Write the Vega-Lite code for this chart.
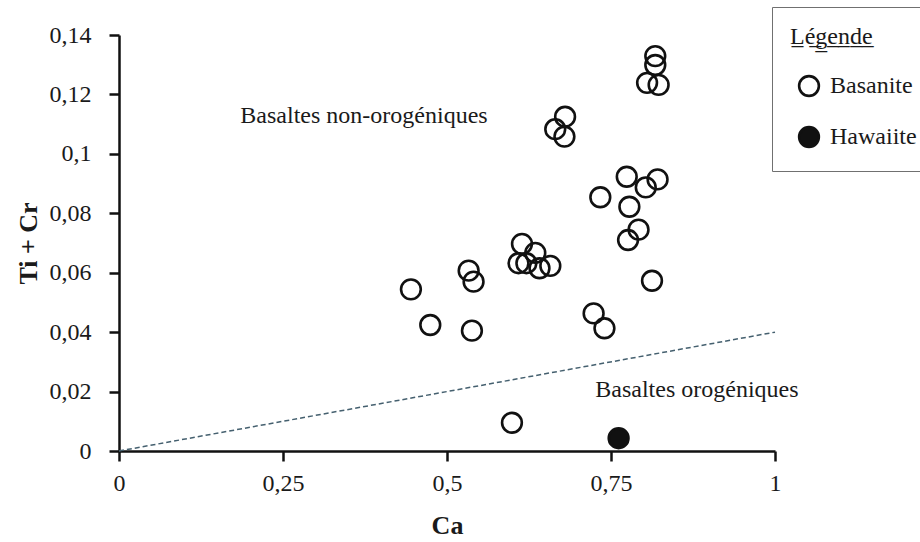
{
  "$schema": "https://vega.github.io/schema/vega-lite/v6.json",
  "width": 656,
  "height": 416,
  "autosize": {"type": "none"},
  "padding": {"left": 119, "top": 35, "right": 145, "bottom": 91},
  "background": "white",
  "datasets": {
    "points": [
      {"Ca": 0.8175, "TiCr": 0.1329, "type": "Basanite"},
      {"Ca": 0.8175, "TiCr": 0.1299, "type": "Basanite"},
      {"Ca": 0.805, "TiCr": 0.1239, "type": "Basanite"},
      {"Ca": 0.8226, "TiCr": 0.1232, "type": "Basanite"},
      {"Ca": 0.68, "TiCr": 0.1125, "type": "Basanite"},
      {"Ca": 0.665, "TiCr": 0.1083, "type": "Basanite"},
      {"Ca": 0.679, "TiCr": 0.1058, "type": "Basanite"},
      {"Ca": 0.774, "TiCr": 0.0923, "type": "Basanite"},
      {"Ca": 0.821, "TiCr": 0.0914, "type": "Basanite"},
      {"Ca": 0.803, "TiCr": 0.0887, "type": "Basanite"},
      {"Ca": 0.7337, "TiCr": 0.0854, "type": "Basanite"},
      {"Ca": 0.778, "TiCr": 0.0822, "type": "Basanite"},
      {"Ca": 0.792, "TiCr": 0.0745, "type": "Basanite"},
      {"Ca": 0.776, "TiCr": 0.071, "type": "Basanite"},
      {"Ca": 0.6143, "TiCr": 0.0697, "type": "Basanite"},
      {"Ca": 0.6346, "TiCr": 0.0667, "type": "Basanite"},
      {"Ca": 0.609, "TiCr": 0.0632, "type": "Basanite"},
      {"Ca": 0.621, "TiCr": 0.0632, "type": "Basanite"},
      {"Ca": 0.641, "TiCr": 0.0615, "type": "Basanite"},
      {"Ca": 0.6575, "TiCr": 0.0623, "type": "Basanite"},
      {"Ca": 0.445, "TiCr": 0.0544, "type": "Basanite"},
      {"Ca": 0.533, "TiCr": 0.0607, "type": "Basanite"},
      {"Ca": 0.5405, "TiCr": 0.057, "type": "Basanite"},
      {"Ca": 0.4745, "TiCr": 0.0424, "type": "Basanite"},
      {"Ca": 0.538, "TiCr": 0.0405, "type": "Basanite"},
      {"Ca": 0.8125, "TiCr": 0.0573, "type": "Basanite"},
      {"Ca": 0.7235, "TiCr": 0.0463, "type": "Basanite"},
      {"Ca": 0.74, "TiCr": 0.0413, "type": "Basanite"},
      {"Ca": 0.599, "TiCr": 0.0095, "type": "Basanite"},
      {"Ca": 0.7616, "TiCr": 0.0043, "type": "Hawaiite"}
    ],
    "line": [
      {"Ca": 0, "TiCr": 0},
      {"Ca": 1, "TiCr": 0.04}
    ],
    "labels": [
      {"Ca": 0.185, "TiCr": 0.1104, "text": "Basaltes non-orogéniques"},
      {"Ca": 0.726, "TiCr": 0.0183, "text": "Basaltes orogéniques"}
    ]
  },
  "layer": [
    {
      "data": {"name": "line"},
      "mark": {"type": "line", "strokeDash": [5, 3], "color": "#45606f", "strokeWidth": 1.5},
      "encoding": {
        "x": {
          "field": "Ca", "type": "quantitative",
          "scale": {"domain": [0, 1], "nice": false, "zero": true},
          "axis": {
            "title": "Ca",
            "values": [0, 0.25, 0.5, 0.75, 1],
            "labelPadding": 10,
            "titlePadding": 17,
            "labelFlush": false,
            "labelExpr": "replace(format(datum.value, '~g'), '.', ',')"
          }
        },
        "y": {
          "field": "TiCr", "type": "quantitative",
          "scale": {"domain": [0, 0.14], "nice": false, "zero": true},
          "axis": {
            "title": "Ti + Cr",
            "values": [0, 0.02, 0.04, 0.06, 0.08, 0.1, 0.12, 0.14],
            "labelPadding": 18,
            "titlePadding": 8,
            "labelExpr": "replace(format(datum.value, '~g'), '.', ',')"
          }
        }
      }
    },
    {
      "data": {"name": "labels"},
      "mark": {"type": "text", "align": "left", "baseline": "alphabetic", "font": "Liberation Serif", "fontSize": 24, "color": "#1a1a1a"},
      "encoding": {
        "x": {"field": "Ca", "type": "quantitative"},
        "y": {"field": "TiCr", "type": "quantitative"},
        "text": {"field": "text"}
      }
    },
    {
      "data": {"name": "points"},
      "mark": {"type": "point", "shape": "circle", "filled": true, "stroke": "#111111", "strokeWidth": 2.6, "size": 390, "opacity": 1},
      "encoding": {
        "x": {"field": "Ca", "type": "quantitative"},
        "y": {"field": "TiCr", "type": "quantitative"},
        "fill": {
          "field": "type", "type": "nominal",
          "scale": {"domain": ["Basanite", "Hawaiite"], "range": ["rgba(255,255,255,0)", "#111111"]},
          "legend": {
            "title": "L\u0332\u00e9\u0332g\u0332e\u0332n\u0332d\u0332e\u0332",
            "orient": "none",
            "legendX": 653,
            "legendY": -28,
            "padding": 18,
            "strokeColor": "#707070",
            "fillColor": "white",
            "titleFont": "Liberation Serif",
            "titleFontSize": 24,
            "titleFontWeight": "normal",
            "titleColor": "#1a1a1a",
            "titlePadding": 25,
            "labelFont": "Liberation Serif",
            "labelFontSize": 24,
            "labelColor": "#1a1a1a",
            "rowPadding": 19,
            "symbolOffset": 7,
            "labelOffset": 9,
            "symbolType": "circle",
            "symbolSize": 390,
            "symbolStrokeColor": "#111111",
            "symbolStrokeWidth": 2.6,
            "encode": {
              "legend": {"update": {"strokeWidth": {"value": 2.2}}}
            }
          }
        }
      }
    }
  ],
  "config": {
    "view": {"stroke": null},
    "axis": {
      "domainColor": "#111111",
      "domainWidth": 2.5,
      "tickColor": "#111111",
      "tickWidth": 2.5,
      "tickSize": 10,
      "grid": false,
      "labelFont": "Liberation Serif",
      "labelFontSize": 24,
      "labelColor": "#1a1a1a",
      "titleFont": "Liberation Serif",
      "titleFontSize": 26,
      "titleFontWeight": "bold",
      "titleColor": "#1a1a1a"
    }
  }
}
